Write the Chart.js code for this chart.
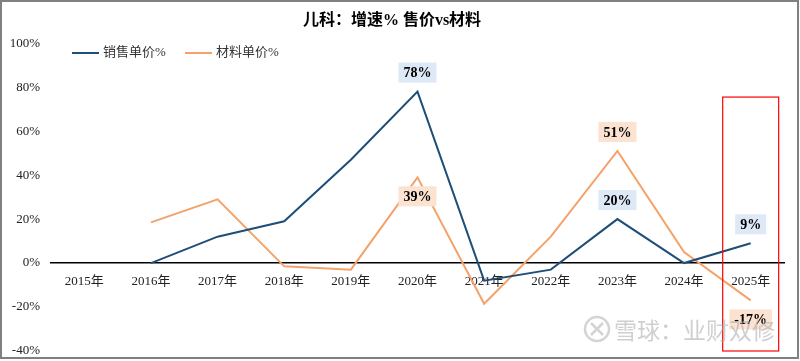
<!DOCTYPE html>
<html>
<head>
<meta charset="utf-8">
<script src="https://cdn.jsdelivr.net/npm/chart.js@4/dist/chart.umd.min.js"></script>
<style>
html,body{margin:0;padding:0;background:#fff;}
#wrap{width:800px;height:361px;position:relative;}
</style>
</head>
<body>
<div id="wrap"><canvas id="c" width="800" height="361"></canvas></div>
<script>
const categories = ['2015年','2016年','2017年','2018年','2019年','2020年','2021年','2022年','2023年','2024年','2025年'];
const salesPrice = [null, 0, 12, 19, 47, 78, -8, -3, 20, 0, 9];
const materialPrice = [null, 18.5, 29, -1.5, -3, 39, -18.5, 12, 51, 5, -17];
const yTicks = [-40, -20, 0, 20, 40, 60, 80, 100];
const seriesNames = ['销售单价%', '材料单价%'];
const labelIdx = [5, 8, 10];
const salesLabelPos = ['above', 'above', 'above'];
const materialLabelPos = ['below', 'above', 'below'];

const BLUE = '#1F4E79', ORANGE = '#F4A26A';
const FONT = "'Liberation Serif','Noto Sans CJK SC',serif";

const extras = {
  id: 'extras',
  afterDatasetsDraw(chart) {
    const ctx = chart.ctx, xs = chart.scales.x, ys = chart.scales.y;
    const cx = xs.getPixelForValue(categories.length - 1);
    const bw = (xs.getPixelForValue(1) - xs.getPixelForValue(0));
    ctx.save();
    ctx.strokeStyle = '#FF0000'; ctx.lineWidth = 1.2;
    ctx.strokeRect(cx - bw * 0.42, ys.getPixelForValue(75.5), bw * 0.84, ys.getPixelForValue(-40) - ys.getPixelForValue(75.5));
    ctx.font = 'bold 14px ' + FONT;
    ctx.textAlign = 'center'; ctx.textBaseline = 'middle';
    const drawLabels = (dsIndex, arr, pos, bg) => {
      const meta = chart.getDatasetMeta(dsIndex);
      labelIdx.forEach((i, k) => {
        const pt = meta.data[i];
        const txt = Math.round(arr[i]) + '%';
        const w = ctx.measureText(txt).width + 10, h = 20;
        const y = pt.y + (pos[k] === 'above' ? -19 : 19);
        ctx.fillStyle = bg;
        ctx.fillRect(pt.x - w / 2, y - h / 2, w, h);
        ctx.fillStyle = '#000';
        ctx.fillText(txt, pt.x, y + 1);
      });
    };
    drawLabels(0, salesPrice, salesLabelPos, '#DDE9F6');
    drawLabels(1, materialPrice, materialLabelPos, '#FBE2D1');
    const items = [[72, BLUE, seriesNames[0]], [185, ORANGE, seriesNames[1]]];
    ctx.textAlign = 'left';
    ctx.font = '13px ' + FONT;
    items.forEach(([x, col, name]) => {
      ctx.strokeStyle = col; ctx.lineWidth = 2;
      ctx.beginPath(); ctx.moveTo(x, 53); ctx.lineTo(x + 27, 53); ctx.stroke();
      ctx.fillStyle = '#333';
      ctx.fillText(name, x + 31, 53);
    });
    ctx.globalAlpha = 0.55;
    ctx.strokeStyle = '#b0b0b0'; ctx.lineWidth = 2.5;
    ctx.beginPath(); ctx.arc(597, 329, 12, 0, Math.PI * 2); ctx.stroke();
    ctx.beginPath(); ctx.moveTo(591, 323); ctx.lineTo(603, 335); ctx.moveTo(603, 323); ctx.lineTo(591, 335); ctx.stroke();
    ctx.fillStyle = '#a8a8a8';
    ctx.font = '23px "Noto Sans CJK SC"';
    ctx.fillText('雪球：业财双修', 614, 330);
    ctx.globalAlpha = 1;
    ctx.strokeStyle = '#808080'; ctx.lineWidth = 2;
    ctx.strokeRect(1, 1, 797, 357);
    ctx.restore();
  }
};

new Chart(document.getElementById('c'), {
  type: 'line',
  data: {
    labels: categories,
    datasets: [
      { label: seriesNames[0], data: salesPrice, borderColor: BLUE, backgroundColor: BLUE, borderWidth: 2, pointRadius: 0, tension: 0 },
      { label: seriesNames[1], data: materialPrice, borderColor: ORANGE, backgroundColor: ORANGE, borderWidth: 2, pointRadius: 0, tension: 0 }
    ]
  },
  options: {
    responsive: false,
    animation: false,
    layout: { padding: { left: 0, right: 16, bottom: 10, top: 0 } },
    plugins: {
      legend: { display: false },
      tooltip: { enabled: false },
      title: {
        display: true,
        text: '儿科：增速% 售价vs材料',
        color: '#000',
        font: { family: FONT, size: 16, weight: 'bold', lineHeight: 1.2 },
        padding: { top: 11, bottom: 13 }
      }
    },
    scales: {
      x: {
        position: { y: 0 },
        offset: true,
        grid: { display: false, drawTicks: false },
        border: { display: true, color: '#000', width: 1.5 },
        ticks: { color: '#222', font: { family: FONT, size: 13 }, padding: 11, maxRotation: 0, autoSkip: false }
      },
      y: {
        min: yTicks[0], max: yTicks[yTicks.length - 1],
        afterFit(s) { s.width = 51; s.paddingTop = 0; s.paddingBottom = 0; },
        afterBuildTicks(s) { s.ticks = yTicks.map(v => ({ value: v })); },
        grid: { display: false, drawTicks: false },
        border: { display: false },
        ticks: { color: '#222', font: { family: FONT, size: 13 }, padding: 11, callback: v => v + '%' }
      }
    }
  },
  plugins: [extras]
});
</script>
</body>
</html>
